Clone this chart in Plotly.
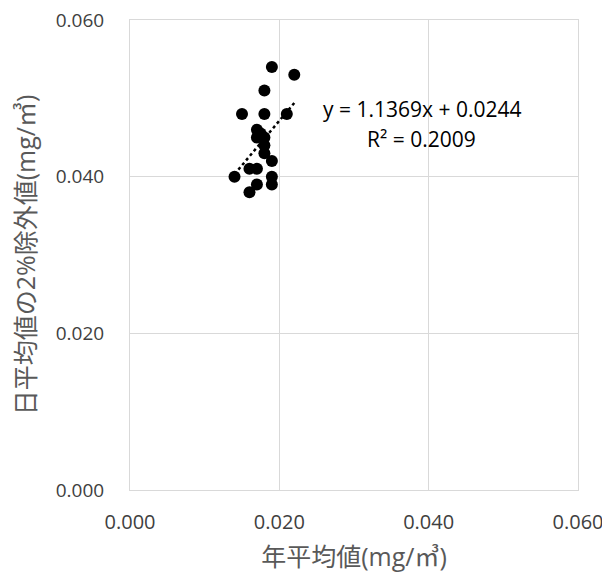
import plotly.graph_objects as go

# Data
annual_mean = [0.019, 0.022, 0.018, 0.015, 0.018, 0.021, 0.017, 0.017, 0.018, 0.018,
               0.018, 0.019, 0.016, 0.017, 0.014, 0.019, 0.019, 0.017, 0.016, 0.0175]
daily_2pct = [0.054, 0.053, 0.051, 0.048, 0.048, 0.048, 0.046, 0.045, 0.045, 0.044,
              0.043, 0.042, 0.041, 0.041, 0.040, 0.040, 0.039, 0.039, 0.038, 0.0455]
slope = 1.1369
intercept = 0.0244
r2 = 0.2009
tick_vals = [0.0, 0.02, 0.04, 0.06]

trend_x = [min(annual_mean), max(annual_mean)]
trend_y = [slope * v + intercept for v in trend_x]

font_fam = "Open Sans, Noto Sans CJK JP, sans-serif"
grey = "#595959"

fig = go.Figure()
fig.add_trace(go.Scatter(x=annual_mean, y=daily_2pct, mode="markers",
                         marker=dict(size=12, color="black"), showlegend=False))
fig.add_trace(go.Scatter(x=trend_x, y=trend_y, mode="lines",
                         line=dict(color="black", width=2.5, dash="dot"), showlegend=False))

fig.add_annotation(x=0.0256, y=0.0486, xref="x", yref="y", xanchor="left", yanchor="middle",
                   text=f"y = {slope}x + {intercept}", showarrow=False,
                   font=dict(family=font_fam, size=21, color="black"))
fig.add_annotation(x=0.0390, y=0.0448, xref="x", yref="y", xanchor="center", yanchor="middle",
                   text=f"R² = {r2}", showarrow=False,
                   font=dict(family=font_fam, size=21, color="black"))

axis_common = dict(range=[0, 0.06], tickvals=tick_vals, tickformat=".3f",
                   showgrid=True, gridcolor="#d9d9d9", gridwidth=1,
                   showline=True, linecolor="#d9d9d9", linewidth=1, mirror=True,
                   zeroline=False, ticks="", ticklabeloverflow="allow", automargin=False)

fig.update_layout(
    width=610, height=583,
    margin=dict(l=122, r=40, t=12, b=101),
    paper_bgcolor="white", plot_bgcolor="white",
    font=dict(family=font_fam),
    xaxis=dict(**axis_common, ticklabelstandoff=14,
               tickfont=dict(family=font_fam, size=20, color="#404040"),
               title=dict(text="年平均値(mg/㎥)", standoff=14,
                          font=dict(family=font_fam, size=25, color=grey))),
    yaxis=dict(**axis_common, ticklabelstandoff=21,
               tickfont=dict(family=font_fam, size=19, color="#404040"),
               title=dict(text="日平均値の2%除外値(mg/㎥)", standoff=12,
                          font=dict(family=font_fam, size=25, color=grey))),
)

fig.write_html("out.html")
